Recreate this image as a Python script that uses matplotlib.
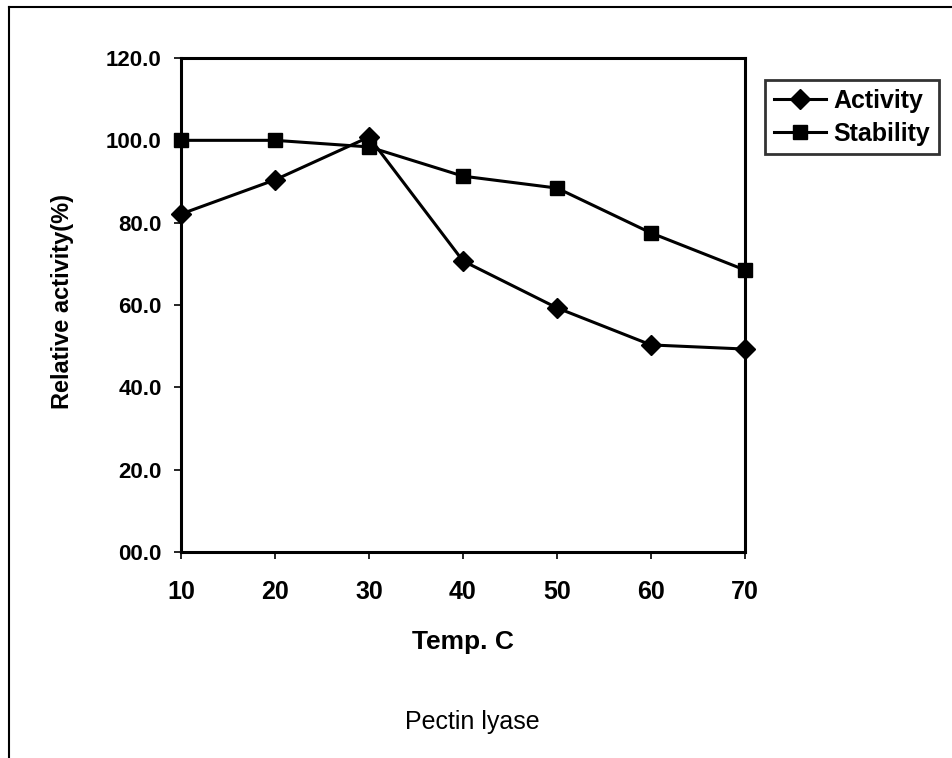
import matplotlib.pyplot as plt
from matplotlib.lines import Line2D

temp = [10, 20, 30, 40, 50, 60, 70]
activity = [82.1, 90.4, 100.8, 70.7, 59.3, 50.3, 49.3]
stability = [100.0, 100.0, 98.4, 91.3, 88.4, 77.5, 68.5]
yticks = [0, 20, 40, 60, 80, 100, 120]
ylabels = ['00.0', '20.0', '40.0', '60.0', '80.0', '100.0', '120.0']

plt.rcParams['font.family'] = ['Liberation Sans', 'DejaVu Sans']

fig = plt.figure(figsize=(9.53, 7.58), dpi=100)
ax = fig.add_axes([181 / 953, 1 - 552 / 758, (745 - 181) / 953, (552 - 58) / 758])

ax.plot(temp, activity, color='black', lw=2.2, marker='D', markersize=10, label='Activity', clip_on=False)
ax.plot(temp, stability, color='black', lw=2.2, marker='s', markersize=10.5, label='Stability', clip_on=False)

ax.set_xlim(10, 70)
ax.set_ylim(0, 120)
ax.set_xticks(temp)
ax.set_xticklabels([str(t) for t in temp], fontsize=18, fontweight='bold')
ax.set_yticks(yticks)
ax.set_yticklabels(ylabels, fontsize=16, fontweight='bold')
ax.tick_params(axis='x', direction='out', length=5, width=1.2, pad=15)
ax.tick_params(axis='y', direction='out', length=5, width=1.2, pad=9)
for s in ax.spines.values():
    s.set_linewidth(2.2)

ax.set_xlabel('Temp. C', fontsize=19, fontweight='bold')
ax.xaxis.set_label_coords(0.5, (552 - 642) / 494)
ax.xaxis.label.set_va('center')
ax.set_ylabel('Relative activity(%)', fontsize=17, fontweight='bold')
ax.yaxis.set_label_coords((62 - 181) / 564, (552 - 301) / 494)
ax.yaxis.label.set_va('center')

leg = ax.legend(loc='upper left', bbox_to_anchor=(765 / 953, 1 - 80 / 758),
                bbox_transform=fig.transFigure,
                prop={'weight': 'bold', 'size': 18},
                frameon=True, fancybox=False, edgecolor='black',
                handlelength=2.1, handletextpad=0.3, borderpad=0.35,
                labelspacing=0.35, borderaxespad=0)
leg.get_frame().set_linewidth(2)

fig.text(472 / 953, 1 - 722 / 758, 'Pectin lyase', fontsize=18, ha='center', va='center')

# page frame (left and top edge)
fig.add_artist(Line2D([9 / 953, 9 / 953], [0, 1 - 7 / 758], transform=fig.transFigure, color='black', lw=1.5))
fig.add_artist(Line2D([9 / 953, 1], [1 - 7 / 758, 1 - 7 / 758], transform=fig.transFigure, color='black', lw=1.5))

fig.savefig('out.png', dpi=100)
